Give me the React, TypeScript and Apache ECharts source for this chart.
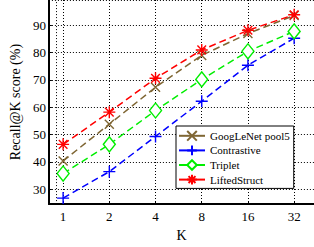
import React, { useEffect, useRef } from "react";
import * as echarts from "echarts";

const K = [1, 2, 4, 8, 16, 32];
const googlenet = [40.3, 53.8, 67.3, 79.0, 87.0, 93.6];
const contrastive = [26.7, 36.4, 49.3, 62.2, 75.4, 85.3];
const triplet = [35.7, 46.4, 58.8, 70.2, 80.5, 87.8];
const lifted = [46.4, 58.2, 70.6, 81.0, 88.2, 93.9];
const seriesNames = ["GoogLeNet pool5", "Contrastive", "Triplet", "LiftedStruct"];

const FONT = "Liberation Serif";
const X_SYM = "path://M-1,-1L1,1M-1,1L1,-1";
const PLUS_SYM = "path://M0,-1L0,1M-1,0L1,0";
const STAR_SYM = "path://M0,-1L0,1M-1,0L1,0M-0.72,-0.72L0.72,0.72M-0.72,0.72L0.72,-0.72";
const DIAMOND_SYM = "path://M0,-1L1,0L0,1L-1,0Z";

export default function App() {
  const ref = useRef<HTMLDivElement>(null);
  useEffect(() => {
    if (!ref.current) return;
    const chart = echarts.init(ref.current, null, { renderer: "svg" });
    const mk = (name: string, vals: number[], color: string, symbol: string, size: number | number[], fill?: string) => ({
      name,
      type: "line",
      data: K.map((k, i) => [k, vals[i]]),
      symbol,
      symbolSize: size,
      showAllSymbol: true,
      color,
      lineStyle: { color, width: 1.5, type: [7, 4] },
      itemStyle: { color: fill || color, borderColor: color, borderWidth: 1.4 },
      z: 3,
    });
    const series: any[] = [
      mk(seriesNames[0], googlenet, "#7f6633", X_SYM, 9),
      mk(seriesNames[1], contrastive, "#0000ff", PLUS_SYM, 12),
      mk(seriesNames[2], triplet, "#00ee00", DIAMOND_SYM, [12, 15], "#ffffff"),
      mk(seriesNames[3], lifted, "#ff0000", STAR_SYM, 12),
    ];
    series[0].markLine = {
      silent: true,
      symbol: "none",
      label: { show: false },
      lineStyle: { color: "#000", type: [1, 2], width: 1 },
      data: [{ xAxis: 0.9 }],
    };
    chart.setOption({
      animation: false,
      textStyle: { fontFamily: FONT },
      grid: { left: 35, right: 0, top: -1, bottom: 30, containLabel: false },
      xAxis: {
        type: "log",
        logBase: 2,
        min: 0.808,
        max: 43.1,
        name: "K",
        nameLocation: "middle",
        nameGap: 20,
        nameTextStyle: { fontFamily: FONT, fontSize: 14, color: "#000" },
        axisLine: { lineStyle: { color: "#000", width: 2 } },
        axisTick: { inside: true, length: 3, lineStyle: { color: "#000" } },
        axisLabel: {
          fontFamily: FONT,
          fontSize: 13,
          color: "#000",
          margin: 6,
          showMinLabel: false,
          showMaxLabel: false,
          formatter: (v: number) => String(Math.round(v)),
        },
        splitLine: { show: true, lineStyle: { color: "#000", type: [1, 2], width: 1 } },
        minorTick: { show: false },
      },
      yAxis: {
        type: "value",
        min: 24.5,
        max: 99.3,
        splitNumber: 8,
        name: "Recall@K score (%)",
        nameLocation: "middle",
        nameGap: 24,
        nameTextStyle: { fontFamily: FONT, fontSize: 14, color: "#000" },
        axisLine: { show: true, lineStyle: { color: "#000", width: 2 } },
        axisTick: { show: true, inside: true, length: 3, lineStyle: { color: "#000" } },
        axisLabel: {
          fontFamily: FONT,
          fontSize: 13,
          color: "#000",
          margin: 3,
          showMinLabel: false,
          showMaxLabel: false,
        },
        splitLine: { show: true, lineStyle: { color: "#000", type: [1, 2], width: 1 } },
      },
      legend: {
        orient: "vertical",
        left: 176,
        top: 126,
        backgroundColor: "#fff",
        borderColor: "#000",
        borderWidth: 1,
        padding: [4, 4, 3, 2],
        itemWidth: 26,
        itemHeight: 12,
        itemGap: 3,
        lineStyle: { type: "solid" },
        textStyle: { fontFamily: FONT, fontSize: 11, color: "#000" },
        data: seriesNames,
      },
      series,
    });
    return () => chart.dispose();
  }, []);
  return <div ref={ref} style={{ width: 314, height: 247, position: "absolute", left: 0, top: 0 }} />;
}
